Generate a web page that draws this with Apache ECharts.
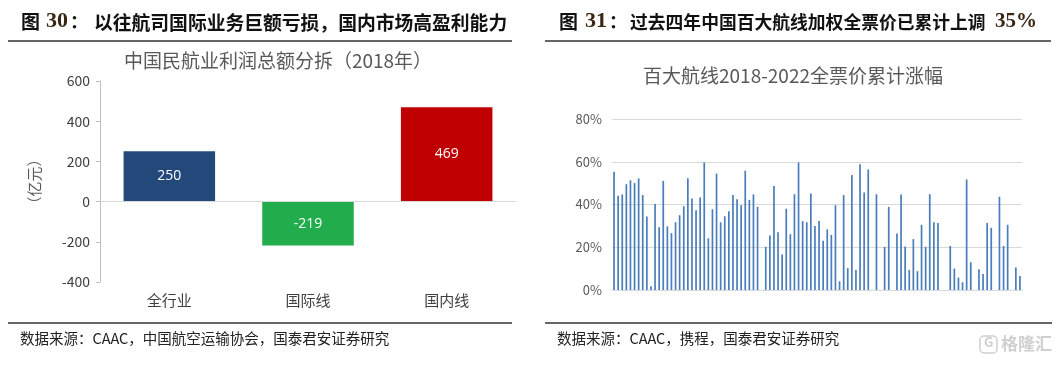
<!DOCTYPE html>
<html><head><meta charset="utf-8">
<script src="https://cdn.jsdelivr.net/npm/echarts@6/dist/echarts.min.js"></script>
<style>html,body{margin:0;padding:0;background:#fff}#c{width:1059px;height:365px}</style>
</head><body><div id="c"></div>
<script>
// Left chart data
const leftCategories = ['全行业', '国际线', '国内线'];
const leftValues = [250, -219, 469];
const leftColors = ['#23487a', '#21ad4b', '#c00000'];
const leftTicks = [-400, -200, 0, 200, 400, 600];

// Right chart data: 100 routes, cumulative fare increase (%), 0 = missing
const routeIndex = Array.from({length: 100}, (_, i) => String(i + 1));
const fareRise = [
  55.3, 44.1, 44.7, 49.5, 51.3, 50.0, 52.2, 44.4, 34.4, 1.7,
  40.2, 29.4, 51.0, 29.8, 26.6, 31.7, 35.0, 39.2, 52.3, 42.8,
  37.3, 43.3, 59.7, 24.2, 37.8, 54.5, 31.7, 34.5, 36.9, 44.4,
  42.5, 39.7, 55.8, 42.2, 44.7, 38.9, 0, 20.2, 25.5, 48.6,
  27.0, 16.6, 38.0, 26.1, 44.8, 59.7, 32.2, 31.7, 45.2, 30.0,
  32.3, 23.0, 28.4, 25.8, 39.7, 4.1, 44.4, 10.2, 53.8, 9.4,
  58.8, 45.6, 56.4, 0, 44.8, 0, 20.2, 38.9, 0, 26.4,
  44.7, 20.3, 9.4, 23.8, 8.8, 30.5, 20.2, 44.8, 31.7, 31.3,
  0, 0, 20.6, 10.0, 5.8, 3.6, 51.7, 13.0, 0, 9.7,
  7.5, 31.3, 29.1, 0, 43.6, 20.6, 30.5, 0, 10.5, 6.6
];
const rightTicks = [0, 20, 40, 60, 80];

const chart = echarts.init(document.getElementById('c'), null, {renderer: 'canvas'});
const cjk = '"Noto Sans CJK SC", "Noto Sans", sans-serif';
const serif = '"Liberation Serif", "DejaVu Serif", serif';

chart.setOption({
  animation: false,
  textStyle: {fontFamily: cjk},
  title: [
    {text: '中国民航业利润总额分拆（2018年）', left: 273, top: 46, textAlign: 'center',
     textStyle: {fontSize: 19, fontWeight: 'normal', color: '#595959', fontFamily: cjk}},
    {text: '百大航线2018-2022全票价累计涨幅', left: 788, top: 61, textAlign: 'center',
     textStyle: {fontSize: 19, fontWeight: 'normal', color: '#595959', fontFamily: cjk}}
  ],
  grid: [
    {left: 100, right: 1059 - 516, top: 81, bottom: 365 - 282},
    {left: 612, right: 1059 - 1022, top: 119, bottom: 365 - 290}
  ],
  xAxis: [
    {type: 'category', gridIndex: 0, data: leftCategories,
     axisLine: {show: false}, axisTick: {show: false},
     axisLabel: {fontSize: 15, color: '#404040', margin: 11}},
    {type: 'category', gridIndex: 1, data: routeIndex,
     axisLine: {lineStyle: {color: '#d9d9d9'}}, axisTick: {show: false},
     axisLabel: {show: false}}
  ],
  yAxis: [
    {type: 'value', gridIndex: 0, min: leftTicks[0], max: leftTicks[leftTicks.length - 1], interval: 200,
     name: '（亿元）', nameLocation: 'middle', nameGap: 58, nameRotate: 90,
     nameTextStyle: {fontSize: 15, color: '#595959'},
     axisLine: {show: true, lineStyle: {color: '#bfbfbf'}},
     axisTick: {show: true, length: 4, lineStyle: {color: '#bfbfbf'}},
     splitLine: {show: false},
     axisLabel: {fontSize: 14, color: '#404040', margin: 10}},
    {type: 'value', gridIndex: 1, min: rightTicks[0], max: rightTicks[rightTicks.length - 1], interval: 20,
     axisLine: {show: false}, axisTick: {show: false},
     splitLine: {lineStyle: {color: '#d9d9d9'}},
     axisLabel: {fontSize: 13, color: '#595959', margin: 10, formatter: '{value}%'}}
  ],
  series: [
    {type: 'bar', xAxisIndex: 0, yAxisIndex: 0, barWidth: '66%',
     data: leftValues.map((v, i) => ({value: v, itemStyle: {color: leftColors[i]}})),
     label: {show: true, position: 'inside', color: '#fff', fontSize: 14, fontFamily: '"Open Sans", sans-serif'},
     markLine: {silent: true, symbol: 'none', label: {show: false},
       lineStyle: {color: '#d9d9d9', width: 1, type: 'solid'}, data: [{yAxis: 0}]}},
    {type: 'bar', xAxisIndex: 1, yAxisIndex: 1, barWidth: 1.7,
     data: fareRise, itemStyle: {color: '#4a7dbb'}}
  ],
  graphic: [
    {type: 'text', left: 21, top: 12, style: {text: '图', font: 'bold 19px ' + cjk, fill: '#111'}},
    {type: 'text', left: 46, top: 10, style: {text: '30', font: 'bold 22px ' + serif, fill: '#3b2612'}},
    {type: 'text', left: 70, top: 12, style: {text: '：', font: 'bold 18px ' + cjk, fill: '#111'}},
    {type: 'text', left: 94, top: 13, style: {text: '以往航司国际业务巨额亏损，国内市场高盈利能力', font: 'bold 18.8px ' + cjk, fill: '#111'}},
    {type: 'line', shape: {x1: 8, y1: 41, x2: 512, y2: 41}, style: {stroke: '#333', lineWidth: 1.3}},
    {type: 'text', left: 559, top: 12, style: {text: '图', font: 'bold 19px ' + cjk, fill: '#111'}},
    {type: 'text', left: 585, top: 10, style: {text: '31', font: 'bold 22px ' + serif, fill: '#3b2612'}},
    {type: 'text', left: 609, top: 12, style: {text: '：', font: 'bold 18px ' + cjk, fill: '#111'}},
    {type: 'text', left: 630, top: 13, style: {text: '过去四年中国百大航线加权全票价已累计上调', font: 'bold 17.8px ' + cjk, fill: '#111'}},
    {type: 'text', left: 995, top: 11, style: {text: '35%', font: 'bold 21px ' + serif, fill: '#3b2612'}},
    {type: 'line', shape: {x1: 545, y1: 41, x2: 1051, y2: 41}, style: {stroke: '#333', lineWidth: 1.3}},
    {type: 'line', shape: {x1: 8, y1: 323, x2: 512, y2: 323}, style: {stroke: '#333', lineWidth: 1.3}},
    {type: 'line', shape: {x1: 545, y1: 323, x2: 1052, y2: 323}, style: {stroke: '#333', lineWidth: 1.3}},
    {type: 'text', left: 20, top: 331, style: {text: '数据来源：CAAC，中国航空运输协会，国泰君安证券研究', font: '14.5px ' + cjk, fill: '#222'}},
    {type: 'text', left: 557, top: 331, style: {text: '数据来源：CAAC，携程，国泰君安证券研究', font: '14.5px ' + cjk, fill: '#222'}},
    {type: 'rect', shape: {x: 980, y: 336, width: 17, height: 17, r: 4}, style: {fill: 'none', stroke: '#cfcfcf', lineWidth: 1.5}},
    {type: 'text', left: 984, top: 336, style: {text: 'G', font: 'bold 13px ' + cjk, fill: '#d0d0d0'}},
    {type: 'text', left: 1001, top: 335, style: {text: '格隆汇', font: 'bold 17px ' + cjk, fill: '#d0d0d0'}}
  ]
});
</script></body></html>
